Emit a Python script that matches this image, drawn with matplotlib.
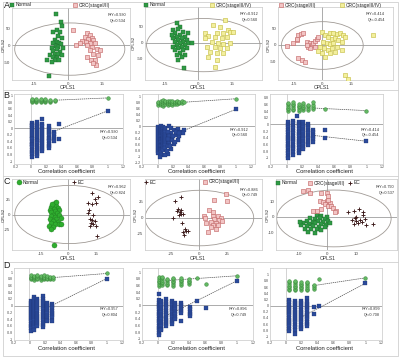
import matplotlib
matplotlib.use('Agg')
import matplotlib.pyplot as plt
from matplotlib.patches import Ellipse

plt.rcParams['font.family'] = ['Liberation Sans', 'DejaVu Sans']
plt.rcParams['axes.unicode_minus'] = False

# ---------------- DATA: score plots (row A) ----------------
A1_normal_x = [-5.5,-3.1,-2.5,-4.7,-6.5,-3.6,-4.3,-2.8,-5.8,-5.0,-3.9,-6.5,-3.1,-5.3,-4.3,-7.3,-2.1,-4.7,-6.5,-3.6,-5.8,-4.3,-8.0,-2.8,-6.5,-4.7,-9.5,-5.8,-7.3,-3.9,-8.3]
A1_normal_y = [90,67,55,45,38,37,27,20,15,10,7,5,2,-3,-5,-8,-8,-13,-17,-20,-25,-25,-30,-30,-35,-37,-45,-45,-50,-43,-90]
A1_crc12_x = [2.1,8.6,9.8,7.6,6.1,9.0,10.5,11.3,8.0,9.8,5.3,12.0,3.6,8.6,10.5,12.7,9.8,11.3,13.5,8.6,10.1,12.0,12.4,11.0,14.2]
A1_crc12_y = [43,35,30,25,13,17,20,15,10,7,7,5,0,0,-5,-13,-15,-25,-30,-35,-43,-45,-60,-52,-15]

A2_normal_x = [-9.7,-8.2,-11.2,-9.0,-6.7,-10.5,-4.5,-8.2,-9.7,-6.0,-11.2,-7.5,-9.0,-5.2,-10.5,-6.7,-8.2,-4.5,-9.7,-6.0,-11.2,-7.5,-9.0,-5.2,-10.5,-6.7,-8.2,-9.7,-6.0,-7.5,-9.0,-6.4,-3.0,-12.0]
A2_normal_y = [61.9,49.5,39.2,41.2,34,28.9,28.9,23.7,18.6,18.6,13.4,13.4,8.2,8.2,3.1,3.1,-2.1,-2.1,-7.2,-7.2,-12.4,-12.4,-17.5,-17.5,-22.7,-22.7,-30.9,-38.1,-38.1,-45.4,-53.6,-79.4,-2.1,23.7]
A2_crc34_x = [12.0,6.7,9.7,13.5,14.2,8.2,11.2,3.0,4.5,7.5,10.5,12.7,6.0,9.0,11.2,14.2,3.7,7.5,9.7,12.7,5.2,8.2,11.2,4.5,8.5,7.5,3.0,15.7]
A2_crc34_y = [70.1,54.6,49.5,39.2,34,28.9,28.9,30.9,20.6,18.6,13.4,18.6,3.1,-2.1,-5.2,-2.1,-12.4,-12.4,-17.5,-17.5,-27.8,-33,-33,-45.4,-53.6,-74.2,13.4,34]

A3_crc12_x = [-18.7,-15.2,-13.4,-12.6,-11.2,-9.9,-8.2,-7.3,-6.5,-5.6,-4.7,-3.8,-3.0,-2.1,-3.8,-6.5,-12.6,-10.8,-9.1,-13.4,-8.2]
A3_crc12_y = [-3,5,15,30,33,35,10,-5,7,0,5,13,17,23,-5,-10,-40,-45,-50,17,0]
A3_crc34_x = [-0.3,1.4,4.0,5.8,7.5,9.2,11.0,11.9,3.1,4.9,6.6,8.4,10.1,0.5,2.3,4.0,5.8,-1.2,1.0,3.1,4.9,7.5,-0.3,1.4,4.0,6.6,-2.1,11.9,13.3,26.7,10.1]
A3_crc34_y = [40,30,37,35,33,37,30,23,23,17,20,15,10,10,5,3,7,-5,-10,-15,-10,-5,-25,-35,-23,-20,-17,-90,-103,30,-15]

# ---------------- DATA: score plots (row C) ----------------
C1_normal_x = [-7.6,-6.7,-9.4,-5.8,-7.9,-10.3,-4.9,-7.2,-9.7,-6.1,-8.5,-5.4,-9.4,-7.6,-4.3,-10.3,-6.7,-8.5,-5.8,-9.7,-7.6,-4.9,-4.0,-10.6,-8.5,-9.4,-8.1,-7.0,-9.0]
C1_normal_y = [19.4,15,12.8,11.1,9.4,8.3,8.3,5.6,3.9,2.8,0,0,-2.8,-4.4,-5.6,-7.2,-8.3,-11.1,-12.8,-13.9,-16.7,-15.6,-16.7,-20.6,-22.2,-25,-51.7,22.2,17.8]
C1_ec_x = [13.2,16.2,14.4,10.8,12.8,15.0,11.4,13.7,11.9,13.2,14.6,12.3,13.7,11.9,15.0,15.5,10.8]
C1_ec_y = [37.2,29.4,26.1,19.4,17.8,19.4,8.3,0,-7.2,-9.4,-11.1,-13.9,-16.7,-20.6,-19.4,-37.8,2.8]

C2_ec_x = [-22.1,-16.8,-19.1,-16.2,-17.6,-16.8,-18.5,-14.7,-23.5,-15.6,-13.2,-11.8,-14.7,-10.3,-13.8,-19.7]
C2_ec_y = [26.5,32.5,13.5,12.5,8.5,6.5,5,6,0,-7.5,-17.5,-20,-22.5,-20,-27.5,10.5]
C2_crc12_x = [23.5,24.4,13.2,8.8,11.8,3.8,5.0,11.8,16.2,19.1,13.2,17.6,10.3,14.7,20.6,11.8,16.2,10.3,14.7,7.9,5.9]
C2_crc12_y = [37.5,26.5,27.5,11.5,9,2.5,0,2.5,2.5,0,-2.5,-3.5,-6.5,-7.5,-5,-11.5,-11.5,-15,-17.5,-22.5,-7.5]

C3_normal_x = [-3.8,-2.1,-0.3,-6.2,-4.4,-2.7,-0.9,-7.3,-5.2,-3.3,-1.5,0.2,-8.5,-6.4,-4.4,-2.4,-0.6,-9.1,-7.1,-5.0,-2.9,-0.9,-7.9,-5.9,-3.8,-2.1,-6.7,-4.4,0.8,-9.7]
C3_normal_y = [1,0.6,0,-1,-1.4,-1,-1.4,-2.6,-3,-2.6,-3,-2.6,-4,-4.6,-4,-4.6,-5,-5.4,-6,-6,-6.6,-6.6,-7.4,-8,-8,-8.6,-9.4,-10,-4,-3]
C3_crc12_x = [-8.5,-6.7,-6.2,-2.1,-0.3,0.2,-2.7,-1.5,-0.3,0.8,-0.9,0.2,1.4,2.0,3.1,2.6,0.2,-3.8,-2.1,-5.0]
C3_crc12_y = [16.6,17,15.4,15.4,15,13.4,10,9.4,9.8,9,8,7,7,5.4,4,3,11,4,5,4]
C3_ec_x = [7.2,9.2,11.0,12.4,8.4,9.5,10.1,11.3,13.0,10.7,11.9,9.2,13.6,9.9,15.9,12.4]
C3_ec_y = [3,4,5,1,-2,-1,-2.6,-2,-1.4,-4,-3.4,-4.6,-5,0,-4.6,3.4]

# ---------------- DATA: permutation plots (rows B, D) ----------------
B1_gx = [0.01, 0.07, 0.13, 0.19, 0.25, 0.31]
B1_gy = [[0.80,0.84,0.87,0.90],[0.81,0.85,0.88,0.91],[0.80,0.83,0.87,0.90],[0.81,0.84,0.88,0.90],[0.82,0.85,0.88],[0.84,0.87]]
B1_bx = [0.01, 0.08, 0.15, 0.23, 0.30]
B1_by = [[0.16,0.10,0.06,0.00,-0.05,-0.12,-0.17,-0.22,-0.30,-0.34,-0.41,-0.47,-0.52,-0.58,-0.66,-0.71,-0.79,-0.87],
         [0.20,0.14,0.08,0.02,-0.04,-0.10,-0.16,-0.23,-0.28,-0.35,-0.40,-0.46,-0.53,-0.60,-0.65,-0.72,-0.78,-0.85],
         [0.30,0.12,0.06,-0.01,-0.07,-0.14,-0.20,-0.25,-0.32,-0.38,-0.44,-0.50,-0.57,-0.63,-0.70],
         [0.06,-0.02,-0.08,-0.15,-0.21,-0.28,-0.34,-0.40,-0.47,-0.55,-0.61],
         [-0.11,-0.18,-0.25,-0.32,-0.39]]
B1_gex, B1_gey = [], []
B1_bex, B1_bey = [0.37, 0.37], [0.12, -0.34]
B1_r2y, B1_q2 = 0.930, 0.534
B1_gline = ([0.31, 1.0], [0.86, 0.930])
B1_bline = ([0.29, 1.0], [-0.10, 0.534])

B2_gx = [0.01,0.04,0.07,0.10,0.13,0.16,0.19,0.22,0.25,0.28,0.31,0.34]
B2_gy = [[0.70,0.76,0.82],[0.72,0.78,0.84],[0.69,0.75,0.81,0.86],[0.73,0.79,0.84],[0.71,0.77,0.83],[0.74,0.80,0.85],
         [0.72,0.78,0.83],[0.75,0.81],[0.73,0.79,0.84],[0.76,0.82],[0.78,0.83],[0.80]]
B2_bx = [0.01,0.04,0.07,0.10]
B2_by = [[-0.02,-0.09,-0.15,-0.22,-0.29,-0.35,-0.42,-0.48,-0.55,-0.62,-0.68,-0.75,-0.81,-0.88],
         [0.00,-0.06,-0.13,-0.20,-0.26,-0.33,-0.40,-0.46,-0.53,-0.60,-0.66,-0.73,-0.79,-0.86,-0.95],
         [-0.03,-0.10,-0.17,-0.24,-0.30,-0.37,-0.44,-0.50,-0.57,-0.64,-0.70,-0.77],
         [-0.05,-0.12,-0.19,-0.27,-0.34,-0.40,-0.47,-0.56,-0.62,-0.70]]
B2_gex, B2_gey = [], []
B2_bex = [0.15,0.17,0.21,0.26,0.30,0.34,0.32,0.17,0.23,0.19,0.26,0.15,0.21,0.17,0.13,0.09,0.03,0.28,0.13,0.14,0.15,0.18,0.24,0.20,0.13,0.16,0.12,0.28,0.22]
B2_bey = [0.03,-0.04,-0.12,-0.07,-0.18,-0.12,-0.23,-0.23,-0.28,-0.38,-0.44,-0.54,-0.59,-0.75,-0.90,-0.95,-1.00,-0.33,-0.64,-0.20,-0.30,-0.45,-0.18,-0.30,-0.40,-0.65,-0.80,-0.22,-0.50]
B2_r2y, B2_q2 = 0.912, 0.560
B2_gline = ([0.35, 1.0], [0.80, 0.912])
B2_bline = ([0.35, 1.0], [-0.12, 0.560])

B3_gx = [0.02,0.08,0.15,0.21,0.27,0.33]
B3_gy = [[0.40,0.45,0.50,0.56,0.61,0.65],[0.42,0.47,0.53,0.57,0.62,0.67],[0.41,0.46,0.51,0.56,0.61],
         [0.43,0.48,0.53,0.58,0.63],[0.44,0.49,0.54,0.59],[0.46,0.52,0.58,0.68]]
B3_bx = [0.02,0.08,0.15,0.21,0.27,0.33]
B3_by = [[0.06,-0.01,-0.09,-0.15,-0.22,-0.30,-0.36,-0.43,-0.50,-0.58,-0.64,-0.71,-0.78,-0.86,-0.93,-1.00],
         [0.10,0.03,-0.04,-0.12,-0.18,-0.25,-0.33,-0.39,-0.46,-0.53,-0.61,-0.67,-0.74,-0.82,-0.90],
         [0.08,0.01,-0.06,-0.13,-0.21,-0.27,-0.34,-0.42,-0.48,-0.55,-0.62,-0.70,-0.78,-0.85],
         [0.06,-0.02,-0.09,-0.16,-0.23,-0.31,-0.37,-0.44,-0.52,-0.58,-0.66,-0.74],
         [0.02,-0.05,-0.12,-0.20,-0.26,-0.33,-0.40,-0.48,-0.54,-0.62],
         [-0.16,-0.23,-0.31,-0.37,-0.44,-0.52]]
B3_gex, B3_gey = [0.48], [0.47]
B3_bex, B3_bey = [0.48, 0.48, 0.13], [-0.16, -0.39, 0.26]
B3_r2y, B3_q2 = 0.414, -0.50
B3_gline = ([0.35, 1.0], [0.49, 0.414])
B3_bline = ([0.35, 1.0], [-0.33, -0.50])

D1_gx = [0.02,0.06,0.10,0.15,0.19,0.23,0.27,0.31]
D1_gy = [[0.78,0.82,0.86,0.90],[0.77,0.81,0.85,0.89],[0.78,0.83,0.87,0.90],[0.77,0.82,0.86,0.89],
         [0.78,0.82,0.86,0.90],[0.79,0.83,0.87],[0.78,0.82,0.86],[0.80,0.84]]
D1_bx = [0.02,0.06,0.10,0.17,0.23,0.29]
D1_by = [[0.14,0.08,0.02,-0.04,-0.10,-0.16,-0.23,-0.29,-0.35,-0.41,-0.47,-0.53,-0.60,-0.66,-0.74],
         [0.25,0.19,0.12,0.06,0.00,-0.06,-0.13,-0.19,-0.25,-0.31,-0.38,-0.44,-0.50,-0.57,-0.63,-0.72],
         [0.21,0.14,0.08,0.02,-0.05,-0.11,-0.17,-0.24,-0.30,-0.36,-0.43,-0.49,-0.55,-0.60],
         [0.28,0.21,0.15,0.08,0.02,-0.05,-0.11,-0.18,-0.24,-0.31,-0.37,-0.44,-0.50,-0.57,-0.64],
         [0.09,0.03,-0.04,-0.10,-0.17,-0.23,-0.30,-0.36,-0.42,-0.46],
         [0.05,-0.02,-0.08,-0.15,-0.21,-0.27,-0.33,-0.46]]
D1_gex, D1_gey = [], []
D1_bex, D1_bey = [], []
D1_r2y, D1_q2 = 0.957, 0.804
D1_gline = ([0.33, 1.0], [0.84, 0.957])
D1_bline = ([0.33, 1.0], [0.05, 0.804])

D2_gx = [0.02,0.05,0.11,0.19,0.29,0.39]
D2_gy = [[0.60,0.65,0.70,0.75,0.80,0.85],[0.62,0.67,0.72,0.77,0.82,0.87],[0.61,0.66,0.71,0.76,0.81],
         [0.60,0.65,0.70,0.75,0.80,0.84],[0.63,0.68,0.73,0.78,0.83],[0.65,0.70,0.75,0.80]]
D2_bx = [0.01,0.04,0.10,0.18,0.21,0.29,0.41]
D2_by = [[0.36,0.16,0.09,0.02,-0.05,-0.12,-0.19,-0.26,-0.33,-0.40,-0.47,-0.54,-0.61,-0.68,-0.75,-0.82,-0.88],
         [0.14,0.07,0.00,-0.07,-0.14,-0.21,-0.28,-0.35,-0.42,-0.49,-0.56,-0.63,-0.70,-0.75],
         [0.19,0.12,0.05,-0.02,-0.09,-0.16,-0.23,-0.30,-0.37,-0.44,-0.51,-0.57,-0.61],
         [0.14,0.07,0.00,-0.07,-0.14,-0.21,-0.28,-0.36,-0.43,-0.50,-0.57],
         [0.09,0.02,-0.05,-0.12,-0.19,-0.26,-0.34,-0.42],
         [0.09,0.02,-0.05,-0.12,-0.18,-0.24,-0.47],
         [-0.05,-0.12,-0.19,-0.26,-0.33]]
D2_gex, D2_gey = [0.49, 0.61], [0.82, 0.66]
D2_bex, D2_bey = [0.49, 0.61], [0.14, -0.09]
D2_r2y, D2_q2 = 0.896, 0.749
D2_gline = ([0.10, 1.0], [0.75, 0.896])
D2_bline = ([0.03, 1.0], [-0.40, 0.749])

D3_gx = [0.04,0.12,0.19,0.27,0.35]
D3_gy = [[0.50,0.55,0.60,0.65,0.70,0.75,0.80],[0.49,0.54,0.60,0.65,0.70,0.76,0.81],[0.50,0.56,0.61,0.66,0.71,0.77],
         [0.50,0.55,0.60,0.66,0.72,0.78],[0.55,0.60,0.66]]
D3_bx = [0.04,0.12,0.19,0.27,0.35]
D3_by = [[0.17,0.10,0.03,-0.04,-0.11,-0.18,-0.25,-0.32,-0.39,-0.46,-0.53,-0.60,-0.67,-0.75,-0.82],
         [0.15,0.08,0.01,-0.06,-0.13,-0.20,-0.27,-0.34,-0.41,-0.48,-0.55,-0.62,-0.70,-0.78,-0.92],
         [0.15,0.08,0.01,-0.06,-0.13,-0.20,-0.27,-0.34,-0.41,-0.48,-0.55,-0.63,-0.70,-0.77],
         [0.23,0.12,0.05,-0.02,-0.09,-0.16,-0.23,-0.30,-0.38,-0.45,-0.52,-0.59,-0.66],
         [-0.05,-0.28]]
D3_gex, D3_gey = [0.42], [0.85]
D3_bex, D3_bey = [0.42], [0.00]
D3_r2y, D3_q2 = 0.899, 0.72
D3_gline = ([0.33, 1.0], [0.64, 0.899])
D3_bline = ([0.17, 1.0], [-0.41, 0.72])

PERM_XTICKS = [-0.2, 0, 0.2, 0.4, 0.6, 0.8, 1, 1.2]
PERM_YTICKS = [-1.2, -1, -0.8, -0.6, -0.4, -0.2, 0, 0.2, 0.4, 0.6, 0.8, 1]

# ---------------- styles ----------------
NORMAL = dict(marker='s', s=6, facecolors='#2f9a45', edgecolors='#1d6b2c', linewidths=0.3)
NORMAL_C = dict(marker='o', s=13, facecolors='#2fae2f', edgecolors='#1f7a1f', linewidths=0.3)
CRC12 = dict(marker='s', s=6, facecolors='#f2c4c4', edgecolors='#c56b6b', linewidths=0.45)
CRC34 = dict(marker='s', s=6, facecolors='#f3ef9c', edgecolors='#c8c04a', linewidths=0.45)
EC = dict(marker='+', s=11, c='#3c1a1a', linewidths=0.65)
PG = dict(marker='o', s=7, facecolors='#62b862', edgecolors='#2e7d32', linewidths=0.3)
PB = dict(marker='s', s=7, facecolors='#2b4a9a', edgecolors='#1b2f6a', linewidths=0.2)

W, H = 400, 358
fig = plt.figure(figsize=(4, 3.58), dpi=100)
fig.patch.set_facecolor('white')


def box(x0, y0, x1, y1):
    return fig.add_axes([x0 / W, 1 - y1 / H, (x1 - x0) / W, (y1 - y0) / H])


def frame(ax):
    for s in ax.spines.values():
        s.set_color('#c8c8c8')
        s.set_linewidth(0.5)
    ax.tick_params(length=0, pad=1.2, labelsize=3.2, colors='#444444')


def score(ax, groups, xlim, ylim, ell, xt, yt, txt, tpos):
    frame(ax)
    ax.axhline(0, color='#8a8a8a', lw=0.5, zorder=1)
    ax.axvline(0, color='#8a8a8a', lw=0.5, zorder=1)
    ax.add_patch(Ellipse(ell[0], 2 * ell[1], 2 * ell[2], fill=False, ec='#a09a95', lw=0.6, zorder=1))
    for gx, gy, st in groups:
        ax.scatter(gx, gy, zorder=3, **st)
    ax.set_xlim(*xlim)
    ax.set_ylim(*ylim)
    ax.set_xticks(xt)
    ax.set_yticks(yt)
    ax.text(tpos[0], tpos[1], txt, transform=ax.transAxes, ha='right', va='top',
            fontsize=2.8, color='#333333', linespacing=1.6)


def perm(ax, gx, gy, bx, by, gex, gey, bex, bey, r2y, q2, gline, bline, xlim, ylim, txt, tpos):
    frame(ax)
    ax.tick_params(labelsize=2.5, pad=0.7)
    ax.axhline(0, color='#8a8a8a', lw=0.5, zorder=1)
    ax.axvline(0, color='#b0b0b0', lw=0.4, zorder=1)
    ax.plot(gline[0], gline[1], ls=(0, (2, 1)), color='#505050', lw=0.5, zorder=2)
    ax.plot(bline[0], bline[1], ls=(0, (2, 1)), color='#505050', lw=0.5, zorder=2)
    for x, ys in zip(gx, gy):
        ax.scatter([x] * len(ys), ys, zorder=3, **PG)
    ax.scatter(gex + [1.0], gey + [r2y], zorder=3, **PG)
    for x, ys in zip(bx, by):
        ax.scatter([x] * len(ys), ys, zorder=3, **PB)
    ax.scatter(bex + [1.0], bey + [q2], zorder=3, **PB)
    ax.set_xlim(*xlim)
    ax.set_ylim(*ylim)
    ax.set_xticks(PERM_XTICKS)
    ax.set_xticklabels([('%g' % v) for v in PERM_XTICKS])
    yts = [v for v in PERM_YTICKS if ylim[0] <= v <= ylim[1]]
    ax.set_yticks(yts)
    ax.set_yticklabels([('%g' % v) for v in yts])
    ax.text(tpos[0], tpos[1], txt, transform=ax.transAxes, ha='right', va='top',
            fontsize=2.8, color='#333333', linespacing=1.6)


# ---- Row A
a1 = box(12, 8, 130, 80)
score(a1, [(A1_normal_x, A1_normal_y, NORMAL), (A1_crc12_x, A1_crc12_y, CRC12)],
      (-24.9, 27.6), (-103, 109), ((0.8, -12), 24.5, 77), [-15, 0, 15], [-50, 0, 50],
      'R²Y=0.930\nQ²=0.534', (0.97, 0.93))
a2 = box(145, 7, 262, 80)
score(a2, [(A2_normal_x, A2_normal_y, NORMAL), (A2_crc34_x, A2_crc34_y, CRC34)],
      (-24, 28.6), (-115, 110), ((2.2, -7.5), 25.5, 82), [-15, 0, 15], [-50, 0, 50],
      'R²Y=0.912\nQ²=0.560', (0.97, 0.93))
a3 = box(278, 7, 393, 80)
score(a3, [(A3_crc12_x, A3_crc12_y, CRC12), (A3_crc34_x, A3_crc34_y, CRC34)],
      (-23.2, 37), (-105, 114), ((0, -1.5), 21.4, 71.5), [-15, 0, 15], [-50, 0, 50],
      'R²Y=0.414\nQ²=-0.454', (0.93, 0.93))

# ---- Row B
b1 = box(14, 94, 123, 164)
perm(b1, B1_gx, B1_gy, B1_bx, B1_by, B1_gex, B1_gey, B1_bex, B1_bey, B1_r2y, B1_q2, B1_gline, B1_bline,
     (-0.22, 1.2), (-1.09, 1.05), 'R²Y=0.930\nQ²=0.534', (0.955, 0.49))
b2 = box(142, 94, 255, 164)
perm(b2, B2_gx, B2_gy, B2_bx, B2_by, B2_gex, B2_gey, B2_bex, B2_bey, B2_r2y, B2_q2, B2_gline, B2_bline,
     (-0.2, 1.25), (-1.24, 1.07), 'R²Y=0.912\nQ²=0.560', (0.94, 0.52))
b3 = box(270, 94, 383, 164)
perm(b3, B3_gx, B3_gy, B3_bx, B3_by, B3_gex, B3_gey, B3_bex, B3_bey, B3_r2y, B3_q2, B3_gline, B3_bline,
     (-0.21, 1.21), (-1.18, 0.91), 'R²Y=0.414\nQ²=-0.454', (0.97, 0.52))

# ---- Row C
c1 = box(12, 179, 130, 250)
score(c1, [(C1_normal_x, C1_normal_y, NORMAL_C), (C1_ec_x, C1_ec_y, EC)],
      (-31, 33.9), (-61, 61), ((0.5, 0), 30, 50), [-15, 0, 15], [-25, 0, 25],
      'R²Y=0.962\nQ²=0.824', (0.97, 0.91))
c2 = box(145, 179, 262, 250)
score(c2, [(C2_ec_x, C2_ec_y, EC), (C2_crc12_x, C2_crc12_y, CRC12)],
      (-48.5, 55.9), (-50, 60), ((0, -0.5), 48.5, 43), [-25, 0, 25], [-25, 0, 25],
      'R²Y=0.886\nQ²=0.749', (0.97, 0.88))
c3 = box(276, 179, 397, 250)
score(c3, [(C3_normal_x, C3_normal_y, NORMAL), (C3_crc12_x, C3_crc12_y, CRC12), (C3_ec_x, C3_ec_y, EC)],
      (-18, 24.3), (-21, 24), ((2.25, -1), 20, 18), [-10, 0, 10], [-10, 0, 10],
      'R²Y=0.790\nQ²=0.537', (0.98, 0.91))

# ---- Row D
d1 = box(14, 268, 123, 340)
perm(d1, D1_gx, D1_gy, D1_bx, D1_by, D1_gex, D1_gey, D1_bex, D1_bey, D1_r2y, D1_q2, D1_gline, D1_bline,
     (-0.19, 1.21), (-1.02, 1.12), 'R²Y=0.957\nQ²=0.804', (0.955, 0.46))
d2 = box(142, 268, 253, 340)
perm(d2, D2_gx, D2_gy, D2_bx, D2_by, D2_gex, D2_gey, D2_bex, D2_bey, D2_r2y, D2_q2, D2_gline, D2_bline,
     (-0.2, 1.2), (-1.04, 1.13), 'R²Y=0.896\nQ²=0.749', (0.95, 0.46))
d3 = box(270, 268, 382, 340)
perm(d3, D3_gx, D3_gy, D3_bx, D3_by, D3_gex, D3_gey, D3_bex, D3_bey, D3_r2y, D3_q2, D3_gline, D3_bline,
     (-0.19, 1.21), (-1.12, 1.22), 'R²Y=0.899\nQ²=0.708', (0.98, 0.46))

# ---- overlay for labels, legends, borders
ov = fig.add_axes([0, 0, 1, 1], zorder=10)
ov.set_xlim(0, W)
ov.set_ylim(H, 0)
ov.axis('off')
ov.patch.set_alpha(0)

for y in (90, 176, 262):
    ov.plot([3, 398], [y, y], color='#d0d0d0', lw=0.6)
ov.plot([3, 398, 398, 3, 3], [2, 2, 356, 356, 2], color='#d0d0d0', lw=0.6)

for lab, y in (('A', 6), ('B', 95), ('C', 182), ('D', 266)):
    ov.text(3.5, y, lab, fontsize=6.5, ha='left', va='center', color='#222222')

for x in (68, 198, 322):
    ov.text(x, 87.5, 'OPLS1', fontsize=3.6, ha='center', va='center', color='#333333')
for x in (68, 198, 328):
    ov.text(x, 258.5, 'OPLS1', fontsize=3.6, ha='center', va='center', color='#333333')
for x, y in ((3.5, 45), (134, 43), (269, 45), (3.5, 215), (136, 215), (268, 215)):
    ov.text(x, y, 'OPLS2', fontsize=3.2, ha='center', va='center', rotation=90, color='#333333')
for x in (67, 197, 325):
    ov.text(x, 171.5, 'Correlation coefficient', fontsize=4.2, ha='center', va='center', color='#222222')
    ov.text(x, 348.5, 'Correlation coefficient', fontsize=4.2, ha='center', va='center', color='#222222')


def leg(x, y, text, st):
    d = dict(st)
    ov.scatter([x], [y], **d)
    ov.text(x + 3.5, y, text, fontsize=3.5, ha='left', va='center', color='#222222')


leg(12, 5, 'Normal', NORMAL)
leg(75, 5, 'CRC(stageI/II)', CRC12)
leg(146, 5, 'Normal', NORMAL)
leg(212, 5, 'CRC(stageIII/IV)', CRC34)
leg(281, 5, 'CRC(stageI/II)', CRC12)
leg(342, 5, 'CRC(stageIII/IV)', CRC34)
leg(19, 182, 'Normal', NORMAL_C)
leg(74, 182, 'EC', EC)
leg(146, 182, 'EC', EC)
leg(205, 182, 'CRC(stageI/II)', CRC12)
leg(278, 183, 'Normal', NORMAL)
leg(310, 183, 'CRC(stageI/II)', CRC12)
leg(350, 183, 'EC', EC)

fig.savefig('out.png', dpi=100, facecolor='white')
